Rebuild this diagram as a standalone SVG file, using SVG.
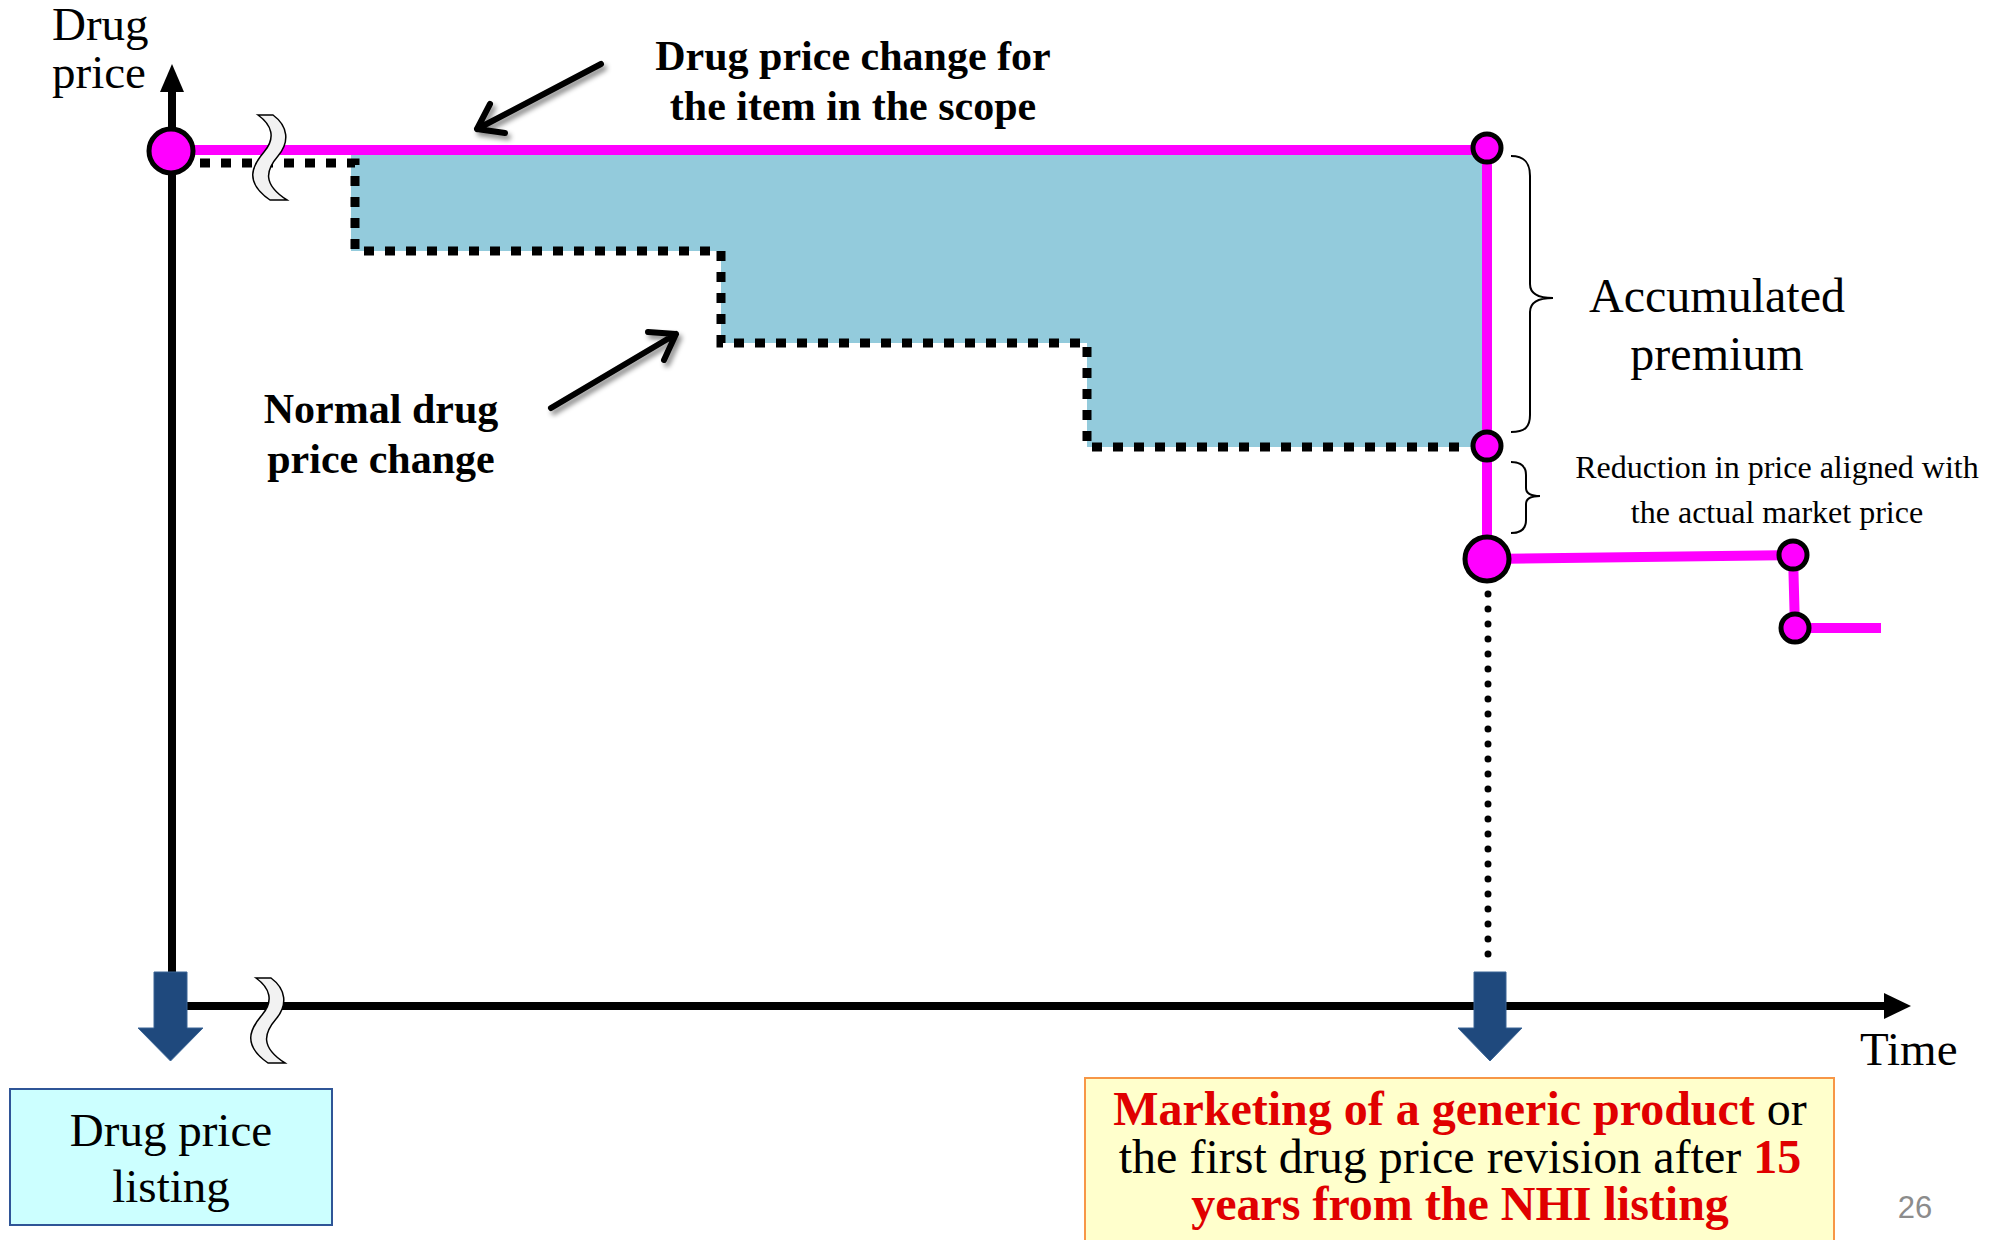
<svg xmlns="http://www.w3.org/2000/svg" width="2000" height="1240" viewBox="0 0 2000 1240">
<defs>
<style>
.serif{font-family:"Liberation Serif","Times New Roman",serif}
.b{font-weight:bold}
.pt{fill:#FF00FF;stroke:#000;stroke-width:5}
.mg{stroke:#FF00FF;stroke-width:10;fill:none}
.dot{stroke:#000;stroke-width:9;stroke-dasharray:10 11;fill:none}
.brk{fill:#F2F2F2;stroke:#000;stroke-width:1.5}
.barrow{fill:#1F497D;stroke:#3A6596;stroke-width:1}
.brace{fill:none;stroke:#000;stroke-width:2}
.red{fill:#E00000}
.ann{stroke:#000;stroke-width:6;fill:none;stroke-linecap:round;stroke-linejoin:round}
</style>
<filter id="sh" x="-30%" y="-30%" width="160%" height="160%"><feDropShadow dx="3" dy="4" stdDeviation="2.5" flood-color="#000" flood-opacity="0.45"/></filter>
<path id="brkshape" d="M258,115 C272,125 276,138 264,152 C252,166 244,182 270,200 L287,200 C262,184 266,170 278,156 C290,142 288,126 273,115 Z"/>
</defs>
<rect width="2000" height="1240" fill="#fff"/>

<g id="premium-area">
<polygon points="351,155 1487,155 1487,447 1087,447 1087,343 721,343 721,251 351,251" fill="#93CBDC"/>
</g>

<g id="connectors">
<path id="normal-change" class="dot" d="M200,163 H355 V251 H721 V343 H1087 V447 H1470"/>
<path id="scope-change" class="mg" d="M171,150 H1487 V559"/>
<path id="after-change" class="mg" d="M1487,559 L1793,555 L1795,628 H1881"/>
<path id="drop-line" d="M1488,594 V968" stroke="#000" stroke-width="7" stroke-dasharray="0 15" stroke-linecap="round" fill="none"/>
<g id="y-axis">
<path d="M172,88 V972" stroke="#000" stroke-width="8"/>
<polygon points="172,64 160,92 184,92" fill="#000"/>
</g>
<g id="x-axis">
<path d="M172,1006 H1888" stroke="#000" stroke-width="8"/>
<polygon points="1911,1006 1884,993 1884,1019" fill="#000"/>
</g>
<g id="annotation-arrows" filter="url(#sh)">
<path class="ann" d="M601,64 L477,129 M505,133 L477,129 L490,104"/>
<path class="ann" d="M551,408 L676,334 M648,332 L676,334 L664,360"/>
</g>
</g>

<g id="breaks">
<use href="#brkshape" class="brk"/>
<use href="#brkshape" class="brk" transform="translate(-2,863)"/>
</g>

<g id="points">
<circle id="p-listing" class="pt" cx="171" cy="151" r="22"/>
<circle id="p-top" class="pt" cx="1487" cy="148" r="14"/>
<circle id="p-normal" class="pt" cx="1487" cy="446" r="14"/>
<circle id="p-generic" class="pt" cx="1487" cy="559" r="22"/>
<circle id="p-next1" class="pt" cx="1793" cy="555" r="14"/>
<circle id="p-next2" class="pt" cx="1795" cy="628" r="14"/>
</g>

<g id="event-arrows">
<path class="barrow" d="M154,972 H187 V1028 H203 L170.5,1061 L138,1028 H154 Z"/>
<path class="barrow" d="M1474,972 H1506 V1028 H1522 L1490,1061 L1458,1028 H1474 Z"/>
</g>

<g id="braces">
<path class="brace" d="M1511,156 C1525,156 1530,163 1530,176 L1530,284 C1530,293 1538,298 1553,298 C1538,298 1530,303 1530,312 L1530,415 C1530,427 1525,432 1511,432"/>
<path class="brace" d="M1511,462 C1522,462 1526,467 1526,475 L1526,488 C1526,493 1531,496 1540,496 C1531,496 1526,499 1526,504 L1526,520 C1526,528 1522,533 1511,533"/>
</g>

<g id="label-y" class="serif" font-size="47">
<text x="52" y="40">Drug</text>
<text x="52" y="88">price</text>
</g>
<g id="label-scope" class="serif b" font-size="42" text-anchor="middle">
<text x="853" y="70">Drug price change for</text>
<text x="853" y="120">the item in the scope</text>
</g>
<g id="label-normal" class="serif b" font-size="42" text-anchor="middle">
<text x="381" y="423">Normal drug</text>
<text x="381" y="473">price change</text>
</g>
<g id="label-premium" class="serif" font-size="48" text-anchor="middle">
<text x="1717" y="312">Accumulated</text>
<text x="1717" y="370">premium</text>
</g>
<g id="label-reduction" class="serif" font-size="32" text-anchor="middle">
<text x="1777" y="478">Reduction in price aligned with</text>
<text x="1777" y="523">the actual market price</text>
</g>
<g id="label-time" class="serif" font-size="47">
<text x="1860" y="1065">Time</text>
</g>

<g id="box-listing">
<rect x="10" y="1089" width="322" height="136" fill="#CCFFFF" stroke="#2F5597" stroke-width="2"/>
<text class="serif" font-size="47" text-anchor="middle" x="171" y="1146">Drug price</text>
<text class="serif" font-size="47" text-anchor="middle" x="171" y="1202">listing</text>
</g>

<g id="box-generic">
<rect x="1085" y="1078" width="749" height="170" fill="#FFFFCC" stroke="#F79646" stroke-width="2"/>
<text class="serif" font-size="48" text-anchor="middle" x="1460" y="1125"><tspan class="b red">Marketing of a generic product</tspan> or</text>
<text class="serif" font-size="48" text-anchor="middle" x="1460" y="1173">the first drug price revision after <tspan class="b red">15</tspan></text>
<text class="serif b red" font-size="48" text-anchor="middle" x="1460" y="1220">years from the NHI listing</text>
</g>

<text id="page-number" x="1915" y="1218" text-anchor="middle" font-family="Liberation Sans, Arial, sans-serif" font-size="31" fill="#8C8C8C">26</text>
</svg>
